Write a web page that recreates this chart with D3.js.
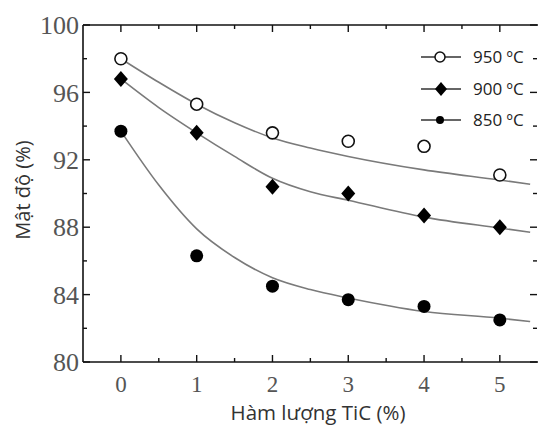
<!DOCTYPE html>
<html>
<head>
<meta charset="utf-8">
<script src="https://cdn.jsdelivr.net/npm/d3@7"></script>
<style>
  body { margin: 0; background: #fff; }
  svg { display: block; }
</style>
</head>
<body>
<svg id="chart" width="538" height="428"></svg>
<script>
// measured points
const xTiC = [0, 1, 2, 3, 4, 5]
const d950 = [98.0, 95.3, 93.6, 93.1, 92.8, 91.1]
const d900 = [96.8, 93.6, 90.4, 90.0, 88.7, 88.0]
const d850 = [93.7, 86.3, 84.5, 83.7, 83.3, 82.5]

// fitted curves
const xFit = [0, 0.5, 1, 1.5, 2, 2.5, 3, 4, 5, 5.4]
const fit950 = [98.0, 96.6, 95.3, 94.2, 93.3, 92.7, 92.2, 91.4, 90.8, 90.55]
const fit900 = [96.8, 95.1, 93.6, 92.2, 90.9, 90.1, 89.6, 88.6, 87.95, 87.7]
const fit850 = [93.7, 90.5, 87.9, 86.2, 85.0, 84.3, 83.8, 83.0, 82.6, 82.4]

const legendLabels = ['950 ºC', '900 ºC', '850 ºC']
const yTicks = [80, 84, 88, 92, 96, 100]
const yMinor = [82, 86, 90, 94, 98]
const xTicks = [0, 1, 2, 3, 4, 5]
const xMinor = [0.5, 1.5, 2.5, 3.5, 4.5]

const svg = d3.select('#chart')
const pLeft = 83, pRight = 540, pTop = 25, pBottom = 362

const x = d3.scaleLinear().domain([-0.5, 5.53]).range([pLeft, pRight])
const y = d3.scaleLinear().domain([80, 100]).range([pBottom, pTop])

// fit lines
const line = d3.line()
  .x(function (d) { return x(d[0]) })
  .y(function (d) { return y(d[1]) })
  .curve(d3.curveMonotoneX)

;[fit950, fit900, fit850].forEach(function (f) {
  svg.append('path')
    .attr('d', line(xFit.map(function (v, i) { return [v, f[i]] })))
    .attr('fill', 'none')
    .attr('stroke', '#7a7a7a')
    .attr('stroke-width', 1.6)
})

// frame
const frame = svg.append('g').attr('stroke', '#111').attr('stroke-width', 1.6)
frame.append('line').attr('x1', pLeft).attr('x2', pLeft).attr('y1', pTop).attr('y2', pBottom)
frame.append('line').attr('x1', pLeft).attr('x2', pRight).attr('y1', pBottom).attr('y2', pBottom)
frame.append('line').attr('x1', pLeft).attr('x2', pRight).attr('y1', pTop).attr('y2', pTop)
frame.append('line').attr('x1', pRight).attr('x2', pRight).attr('y1', pTop).attr('y2', pBottom)

// inward ticks
const ticks = svg.append('g').attr('stroke', '#111').attr('stroke-width', 1.4)
xTicks.forEach(function (v) {
  ticks.append('line').attr('x1', x(v)).attr('x2', x(v)).attr('y1', pBottom).attr('y2', pBottom - 7)
  ticks.append('line').attr('x1', x(v)).attr('x2', x(v)).attr('y1', pTop).attr('y2', pTop + 7)
})
xMinor.forEach(function (v) {
  ticks.append('line').attr('x1', x(v)).attr('x2', x(v)).attr('y1', pBottom).attr('y2', pBottom - 4)
  ticks.append('line').attr('x1', x(v)).attr('x2', x(v)).attr('y1', pTop).attr('y2', pTop + 4)
})
yTicks.forEach(function (v) {
  ticks.append('line').attr('x1', pLeft).attr('x2', pLeft + 7).attr('y1', y(v)).attr('y2', y(v))
  ticks.append('line').attr('x1', pRight - 3).attr('x2', pRight - 10).attr('y1', y(v)).attr('y2', y(v))
})
yMinor.forEach(function (v) {
  ticks.append('line').attr('x1', pLeft).attr('x2', pLeft + 4).attr('y1', y(v)).attr('y2', y(v))
  ticks.append('line').attr('x1', pRight - 3).attr('x2', pRight - 7).attr('y1', y(v)).attr('y2', y(v))
})

// tick labels
svg.append('g').selectAll('text').data(yTicks).join('text')
  .attr('x', 79).attr('y', function (d) { return y(d) })
  .attr('dy', '0.35em')
  .attr('text-anchor', 'end')
  .attr('font-family', 'Liberation Serif, serif')
  .attr('font-size', 26)
  .attr('fill', '#555')
  .text(function (d) { return d })

svg.append('g').selectAll('text').data(xTicks).join('text')
  .attr('x', function (d) { return x(d) }).attr('y', 392)
  .attr('text-anchor', 'middle')
  .attr('font-family', 'Liberation Serif, serif')
  .attr('font-size', 23)
  .attr('fill', '#555')
  .text(function (d) { return d })

// axis titles
svg.append('text')
  .attr('transform', 'translate(30,190) rotate(-90)')
  .attr('text-anchor', 'middle')
  .attr('font-family', 'Open Sans, sans-serif')
  .attr('font-size', 20)
  .attr('fill', '#333')
  .text('Mật độ (%)')

svg.append('text')
  .attr('x', 318).attr('y', 420)
  .attr('text-anchor', 'middle')
  .attr('font-family', 'Open Sans, sans-serif')
  .attr('font-size', 20.5)
  .attr('fill', '#333')
  .text('Hàm lượng TiC (%)')

// markers
function diamond(cx, cy, w, h) {
  return 'M' + cx + ',' + (cy - h) + 'L' + (cx + w) + ',' + cy + 'L' + cx + ',' + (cy + h) + 'L' + (cx - w) + ',' + cy + 'Z'
}

svg.append('g').selectAll('circle').data(d950).join('circle')
  .attr('cx', function (d, i) { return x(xTiC[i]) })
  .attr('cy', function (d) { return y(d) })
  .attr('r', 6)
  .attr('fill', '#fff').attr('stroke', '#111').attr('stroke-width', 1.6)

svg.append('g').selectAll('path').data(d900).join('path')
  .attr('d', function (d, i) { return diamond(x(xTiC[i]), y(d), 7, 8) })
  .attr('fill', '#000')

svg.append('g').selectAll('circle').data(d850).join('circle')
  .attr('cx', function (d, i) { return x(xTiC[i]) })
  .attr('cy', function (d) { return y(d) })
  .attr('r', 6.5)
  .attr('fill', '#000')

// legend
const legendY = [57, 89, 120]
const lg = svg.append('g')
legendLabels.forEach(function (lab, i) {
  const ly = legendY[i]
  lg.append('line').attr('x1', 421).attr('x2', 461).attr('y1', ly).attr('y2', ly)
    .attr('stroke', '#333').attr('stroke-width', 1.6)
  if (i === 0) {
    lg.append('circle').attr('cx', 440).attr('cy', ly).attr('r', 5)
      .attr('fill', '#fff').attr('stroke', '#111').attr('stroke-width', 1.5)
  } else if (i === 1) {
    lg.append('path').attr('d', diamond(441, ly, 6, 7)).attr('fill', '#000')
  } else {
    lg.append('circle').attr('cx', 440).attr('cy', ly).attr('r', 4).attr('fill', '#000')
  }
  lg.append('text').attr('x', 473).attr('y', ly).attr('dy', '0.35em')
    .attr('font-family', 'Open Sans, sans-serif')
    .attr('font-size', 17)
    .attr('fill', '#222')
    .text(lab)
})
</script>
</body>
</html>
